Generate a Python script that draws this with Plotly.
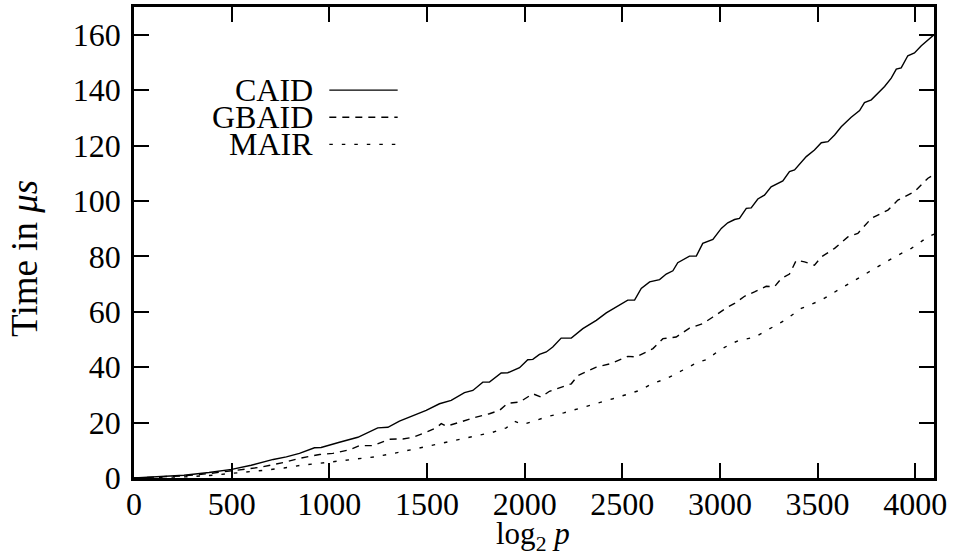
import plotly.graph_objects as go

# ---- data ----
caid_x = [0, 128, 256, 384, 500, 600, 713, 780, 847, 924, 958, 1052, 1146, 1248, 1300, 1359,
          1496, 1564, 1624, 1692, 1735, 1786, 1820, 1880, 1914, 1974, 2016, 2042, 2076, 2111,
          2144, 2187, 2239, 2298, 2367, 2418, 2469, 2528, 2563, 2597, 2640, 2691, 2725, 2759,
          2784, 2844, 2879, 2912, 2964, 3007, 3040, 3075, 3100, 3135, 3160, 3194, 3228, 3262,
          3322, 3356, 3382, 3442, 3484, 3519, 3553, 3587, 3621, 3672, 3715, 3740, 3775, 3809,
          3843, 3877, 3903, 3928, 3962, 3996, 4031, 4096]
caid_y = [0, 0.4, 1.0, 2.0, 3.1, 4.6, 6.7, 7.6, 8.9, 10.9, 11.0, 12.9, 14.7, 18.1, 18.3, 20.5,
          24.4, 26.8, 28.0, 30.8, 31.6, 34.6, 34.6, 37.9, 38.0, 39.8, 42.7, 42.8, 44.6, 45.5,
          47.3, 50.5, 50.5, 53.9, 56.9, 59.6, 61.7, 64.2, 64.2, 68.4, 70.8, 71.6, 73.6, 74.8,
          77.7, 80.1, 80.1, 84.7, 86.1, 90.1, 92.1, 93.3, 93.7, 97.3, 97.5, 100.7, 102.1, 105.1,
          107.2, 110.6, 111.2, 116.0, 118.4, 121.0, 121.4, 123.8, 126.8, 130.2, 132.6, 135.5,
          136.5, 139.1, 141.3, 144.3, 147.6, 148.0, 152.4, 153.4, 156.0, 160.0]

gbaid_x = [0, 128, 256, 384, 500, 640, 768, 847, 950, 1018, 1103, 1155, 1223, 1308, 1376, 1428,
           1496, 1547, 1573, 1598, 1667, 1752, 1820, 1871, 1914, 1974, 2042, 2085, 2127, 2196,
           2239, 2273, 2367, 2443, 2528, 2571, 2657, 2708, 2776, 2844, 2912, 2964, 3040, 3075,
           3126, 3177, 3237, 3279, 3314, 3356, 3391, 3433, 3484, 3519, 3587, 3655, 3706, 3775,
           3860, 3911, 3996, 4065, 4096]
gbaid_y = [0, 0.3, 0.8, 1.6, 2.5, 3.8, 5.6, 7.1, 8.5, 8.9, 10.2, 11.7, 11.7, 14.0, 14.1, 14.7,
           16.5, 18.1, 19.6, 18.7, 20.1, 22.0, 23.2, 24.4, 27.0, 27.4, 30.4, 29.2, 31.3, 33.1,
           34.0, 37.0, 40.0, 41.3, 43.9, 43.7, 46.7, 50.3, 50.9, 54.1, 55.7, 58.1, 61.7, 63.0,
           65.6, 67.2, 69.2, 69.0, 72.0, 73.6, 78.6, 78.0, 76.8, 79.8, 82.9, 87.0, 88.3, 93.7,
           96.7, 100.3, 103.3, 108.2, 109.5]

mair_x = [0, 128, 256, 384, 500, 640, 768, 847, 950, 1103, 1240, 1359, 1479, 1598, 1683, 1769,
          1837, 1906, 1948, 1991, 2059, 2119, 2200, 2300, 2452, 2588, 2657, 2725, 2827, 2887,
          2930, 2998, 3058, 3100, 3178, 3331, 3416, 3519, 3604, 3689, 3792, 3894, 3980, 4065,
          4096]
mair_y = [0, 0.1, 0.4, 0.9, 1.6, 2.6, 3.6, 4.5, 5.3, 6.5, 7.7, 9.3, 11.1, 12.7, 14.1, 15.3,
          16.5, 18.1, 20.5, 19.3, 20.8, 22.2, 23.5, 25.5, 28.6, 31.6, 34.2, 35.8, 39.5, 41.8,
          42.7, 46.1, 48.5, 49.7, 50.8, 56.9, 61.2, 64.2, 67.8, 71.4, 75.6, 79.8, 82.9, 87.0,
          88.0]

series_names = ["CAID", "GBAID", "MAIR"]
x_ticks = [0, 500, 1000, 1500, 2000, 2500, 3000, 3500, 4000]
y_ticks = [0, 20, 40, 60, 80, 100, 120, 140, 160]
x_title = "log<sub>2</sub> <i>p</i>"
y_title = "Time in <i>μs</i>"

FONT = "Liberation Serif"
FS = 32
dashes = ["solid", "7px,6px", "3.5px,9px"]

fig = go.Figure()
for name, xs, ys, d in zip(series_names, [caid_x, gbaid_x, mair_x],
                           [caid_y, gbaid_y, mair_y], dashes):
    fig.add_trace(go.Scatter(x=xs, y=ys, mode="lines", name=name,
                             line=dict(color="black", width=1.4, dash=d),
                             showlegend=False))

# gnuplot-style key: text on the left, line sample on the right
legend_y = [140, 130.2, 120.4]
for name, ly, d in zip(series_names, legend_y, dashes):
    fig.add_annotation(x=925, y=ly, xref="x", yref="y", text=name, showarrow=False,
                       xanchor="right", yanchor="middle",
                       font=dict(family=FONT, size=FS, color="black"))
    fig.add_shape(type="line", xref="x", yref="y", x0=1000, x1=1350, y0=ly, y1=ly,
                  line=dict(color="black", width=1.4, dash=d))

# axis titles placed like the reference
fig.add_annotation(x=-0.137, y=0.466, xref="paper", yref="paper", text=y_title,
                   textangle=-90, showarrow=False, xanchor="center", yanchor="middle",
                   font=dict(family=FONT, size=37, color="black"))
fig.add_annotation(x=0.4987, y=-0.1705, xref="paper", yref="paper", text=x_title,
                   showarrow=False, xanchor="center", yanchor="bottom",
                   font=dict(family=FONT, size=31, color="black"))

axis_common = dict(showgrid=False, zeroline=False, showline=True, linecolor="black",
                   linewidth=2.5, mirror="ticks", ticks="inside", ticklen=15, tickwidth=2,
                   tickcolor="black", automargin=False,
                   tickfont=dict(family=FONT, size=FS, color="black"))

fig.update_xaxes(range=[0, 4096], tickvals=x_ticks, ticktext=[str(v) for v in x_ticks],
                 ticklabelstandoff=-4, **axis_common)
fig.update_yaxes(range=[0, 170], tickvals=y_ticks, ticktext=[str(v) for v in y_ticks],
                 ticklabelstandoff=4, **axis_common)

fig.update_layout(width=956, height=558, margin=dict(l=134, r=22, t=7, b=80),
                  plot_bgcolor="white", paper_bgcolor="white", showlegend=False)

fig.write_html("out.html")
